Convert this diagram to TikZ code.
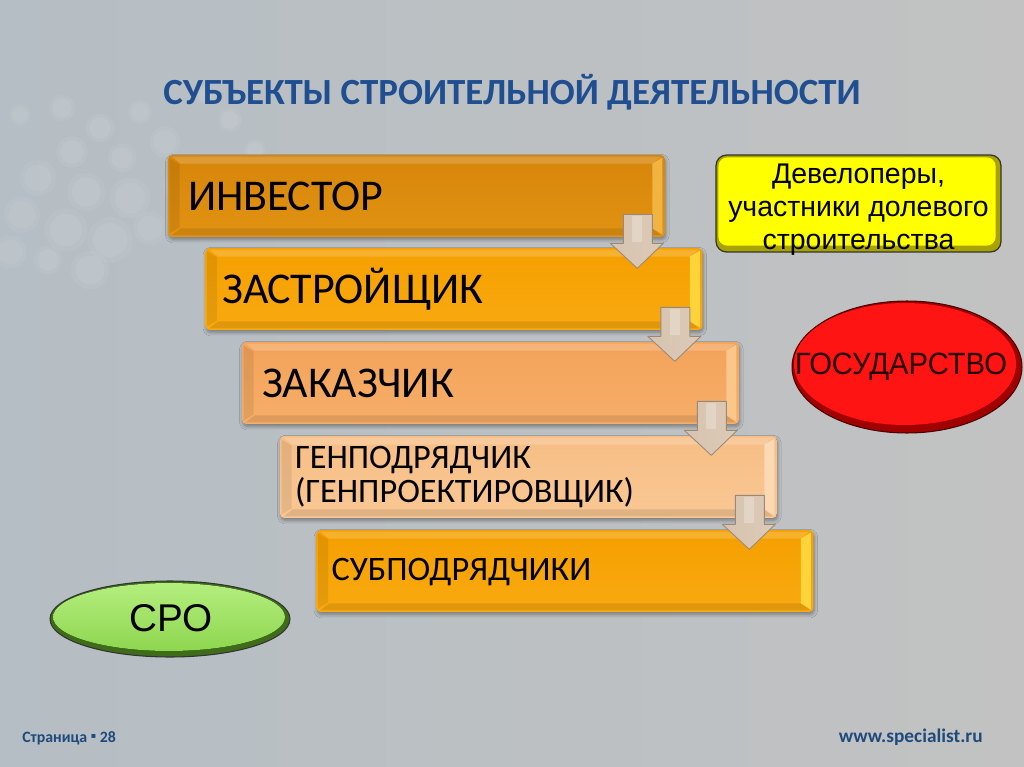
\documentclass[tikz,border=0pt]{standalone}
\usepackage{fontspec}
\setmainfont{Carlito}
\newfontfamily\arial{Liberation Sans}
\newfontfamily\djv{DejaVu Sans}
\usetikzlibrary{shapes.geometric,shadows.blur,calc}
\definecolor{titleblue}{HTML}{1F4E91}
\definecolor{footblue}{HTML}{1F4A7C}
\definecolor{bgl}{HTML}{B5BEC4}
\definecolor{bgr}{HTML}{C2C2C2}
\definecolor{oA}{HTML}{D6850A}\definecolor{oAb}{HTML}{E29312}\definecolor{sA}{HTML}{F2B440}
\definecolor{oB}{HTML}{F59F00}\definecolor{oBb}{HTML}{F9AA10}\definecolor{sB}{HTML}{FFD43A}
\definecolor{oC}{HTML}{F3A35A}\definecolor{oCb}{HTML}{F6AE68}\definecolor{sC}{HTML}{F9C78A}
\definecolor{oD}{HTML}{F7BE86}\definecolor{oDb}{HTML}{F9C793}\definecolor{sD}{HTML}{FBD9B4}
\definecolor{arrL}{HTML}{D6C4B0}\definecolor{arrM}{HTML}{F2ECE3}\definecolor{arrR}{HTML}{DCCAB6}
\definecolor{arrD}{HTML}{9A8978}
\definecolor{yel}{HTML}{FFFF00}\definecolor{yelD}{HTML}{A9A300}
\definecolor{redF}{HTML}{FF1414}\definecolor{redD}{HTML}{A00000}
\definecolor{grnT}{HTML}{B4EE7E}\definecolor{grnB}{HTML}{8ED650}\definecolor{grnD}{HTML}{3E6C18}
\tikzset{
  stepbox/.style={rectangle, rounded corners=2.5pt, minimum width=9.94cm, minimum height=1.64cm,
    inner sep=0pt, blur shadow={shadow blur steps=6, shadow xshift=0.5pt, shadow yshift=-1.5pt, shadow opacity=35}},
  boxtext/.style={inner sep=0pt, text=black},
  bigtext/.style={boxtext, font=\fontsize{25}{28}\selectfont},
  midtext/.style={boxtext, font=\fontsize{19.5}{19}\selectfont, align=left},
  blockarrow/.style={draw=arrD, line width=0.5pt, left color=arrL, middle color=arrM, right color=arrR, line join=round},
  footer/.style={inner sep=0pt, text=footblue, font=\bfseries\fontsize{9}{10}\selectfont}
}
\begin{document}
\begin{tikzpicture}[x=0.02cm,y=-0.02cm]
\useasboundingbox (0,0) rectangle (1024,767);
% background
\fill[left color=bgl, right color=bgr] (0,0) rectangle (1024,767);
\foreach \cx/\cy/\r in {20/115/9,62/108/11,100/128/12,140/112/10,122/158/12,72/152/13,38/178/15,86/192/16,130/198/17,
  22/215/15,66/230/18,110/240/19,150/228/14,165/142/13,178/185/12,10/252/14,48/260/12,90/270/16,205/95/8,230/120/10,255/150/9}
  {\fill[white, opacity=0.05] (\cx,\cy) circle [radius=\r*0.024cm];
   \fill[white, opacity=0.06] (\cx,\cy) circle [radius=\r*0.018cm];}
% title
\node[inner sep=0pt, text=titleblue, font=\bfseries\fontsize{21}{24}\selectfont] (title) at (512,92) {СУБЪЕКТЫ СТРОИТЕЛЬНОЙ ДЕЯТЕЛЬНОСТИ};
% boxes
\node[stepbox, top color=oA, bottom color=oAb] (b1) at (416.5,196) {};
\node[stepbox, top color=oB, bottom color=oBb] (b2) at (454,289) {};
\node[stepbox, top color=oC, bottom color=oCb] (b3) at (490.5,383) {};
\node[stepbox, top color=oD, bottom color=oDb] (b4) at (528.5,477) {};
\node[stepbox, top color=oB, bottom color=oBb] (b5) at (565,571) {};
\foreach \b/\s in {b1/sA,b2/sB,b3/sC,b4/sD,b5/sB}{
  \fill[\s] ($(\b.north east)+(-3,3)$) -- ($(\b.north east)+(-13,9)$) -- ($(\b.south east)+(-13,-9)$) -- ($(\b.south east)+(-3,-3)$) -- cycle;
  \fill[white, opacity=0.18] ($(\b.north west)+(4,2)$) -- ($(\b.north east)+(-4,2)$) -- ($(\b.north east)+(-13,9)$) -- ($(\b.north west)+(13,9)$) -- cycle;
  \fill[black, opacity=0.08] ($(\b.north west)+(2,4)$) -- ($(\b.north west)+(12,10)$) -- ($(\b.south west)+(12,-10)$) -- ($(\b.south west)+(2,-4)$) -- cycle;
  \fill[black, opacity=0.10] ($(\b.south west)+(4,-2)$) -- ($(\b.south east)+(-4,-2)$) -- ($(\b.south east)+(-13,-9)$) -- ($(\b.south west)+(13,-9)$) -- cycle;
}
% box texts
\node[bigtext, anchor=base west] (t1) at ($(b1.west)+(20,14)$) {ИНВЕСТОР};
\node[bigtext, anchor=base west] (t2) at ($(b2.west)+(17,14)$) {ЗАСТРОЙЩИК};
\node[bigtext, anchor=base west] (t3) at ($(b3.west)+(20,14)$) {ЗАКАЗЧИК};
\node[midtext, anchor=west] (t4) at ($(b4.west)+(15,0)$) {ГЕНПОДРЯДЧИК\\(ГЕНПРОЕКТИРОВЩИК)};
\node[midtext, anchor=base west] (t5) at ($(b5.west)+(15,9)$) {СУБПОДРЯДЧИКИ};
% down arrows between boxes
\foreach \b in {b1,b2,b3,b4}{
  \begin{scope}[shift={(\b.south east)}]
    \draw[blockarrow] (-42,-23) -- (-13,-23) -- (-13,6) -- (-2,6) -- (-28,31) -- (-55,6) -- (-42,6) -- cycle;
    \fill[white, opacity=0.25] (-33,-21) rectangle (-23,5);
  \end{scope}
}
% yellow box
\node[rectangle, rounded corners=6pt, minimum width=5.7cm, minimum height=1.94cm, inner sep=0pt,
  fill=yelD, draw=black!80, line width=0.7pt] (dev) at (858.5,203.5) {};
\fill[yel, rounded corners=5pt] ($(dev.north west)+(3,3)$) rectangle ($(dev.south east)+(-6,-7)$);
\node[inner sep=0pt, align=center, font=\arial\fontsize{16.2}{18.8}\selectfont] (devt) at ($(dev.center)+(0,6)$) {Девелоперы,\\участники долевого\\строительства};
% red ellipse
\node[ellipse, minimum width=4.6cm, minimum height=2.64cm, inner sep=0pt, fill=redD, draw=black!70!red, line width=0.6pt] (gos) at (907,367) {};
\fill[redF] ($(gos.center)+(-2,-3)$) ellipse [x radius=2.22cm, y radius=1.22cm];
\node[inner sep=0pt, text=black!85!red, font=\arial\fontsize{17.5}{20}\selectfont, xscale=0.95] (gost) at (901,367) {ГОСУДАРСТВО};
% green ellipse
\node[ellipse, minimum width=4.8cm, minimum height=1.52cm, inner sep=0pt, fill=grnD, draw=black!80, line width=0.6pt] (sro) at (170,619) {};
\fill[top color=grnT, bottom color=grnB] ($(sro.center)+(-1,-2)$) ellipse [x radius=2.32cm, y radius=0.68cm];
\node[inner sep=0pt, font=\arial\fontsize{22}{24}\selectfont] (srot) at (171,618) {СРО};
% footer
\node[footer, anchor=base west] (page) at (22,742) {Страница \raisebox{0.2em}{\djv\fontsize{4.5}{5}\selectfont ▪} 28};
\node[footer, anchor=base east, font=\bfseries\fontsize{11}{12}\selectfont] (www) at (983,742) {www.specialist.ru};
\end{tikzpicture}
\end{document}
